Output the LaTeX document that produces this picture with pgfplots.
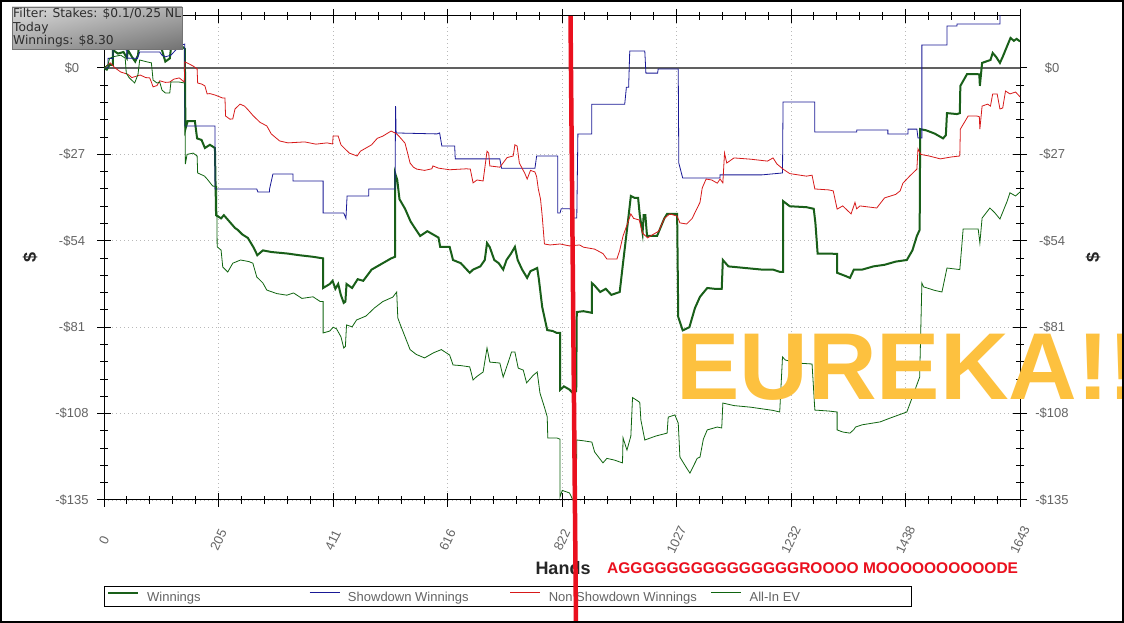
\documentclass[border=0pt]{standalone}
\usepackage{fontspec}
\setmainfont{Liberation Sans}
\newfontfamily\dejavu{DejaVu Sans}
\usepackage{pgfplots}
\pgfplotsset{compat=1.18}
\usetikzlibrary{shadings}
\definecolor{wincol}{RGB}{25,95,25}
\definecolor{sdcol}{RGB}{25,25,150}
\definecolor{nsdcol}{RGB}{215,25,25}
\definecolor{evcol}{RGB}{15,100,15}
\definecolor{eureka}{RGB}{253,193,63}
\definecolor{agro}{RGB}{234,16,30}
\definecolor{ticklab}{RGB}{100,100,100}
\definecolor{boxtext}{RGB}{45,45,45}

\pgfplotsset{
  baseaxis/.style={
    at={(104pt,123pt)}, anchor=south west,
    scale only axis, width=916pt, height=484pt,
    xmin=0, xmax=1643, ymin=-135, ymax=16.25,
    ytick={-135,-108,-81,-54,-27,0},
    yticklabels={-\$135,-\$108,-\$81,-\$54,-\$27,\$0},
  }
}

\begin{document}
\begin{tikzpicture}
\useasboundingbox (0,0) rectangle (1124pt,623pt);
\fill[white] (0,0) rectangle (1124pt,623pt);

\begin{axis}[
  baseaxis,
  axis line style={black, line width=1pt},
  xtick={0,205.375,410.75,616.125,821.5,1026.875,1232.25,1437.625,1643},
  xticklabels={0,205,411,616,822,1027,1232,1438,1643},
  minor x tick num=4, minor y tick num=4,
  tick align=center, major tick length=14pt, minor tick length=8pt,
  every tick/.style={black, line width=1pt},
  grid=major,
  major grid style={gray!55, line width=0.8pt, dash pattern=on 1pt off 3pt},
  xticklabel style={font=\fontsize{13}{15}\selectfont, text=ticklab, inner sep=0pt, anchor=center, yshift=-33pt, rotate=65},
  yticklabel style={font=\fontsize{13}{15}\selectfont, text=ticklab, inner sep=0pt, anchor=center, xshift=-25pt},
  legend columns=4,
  legend style={at={(0,-0.17975)}, anchor=north west, draw=none, fill=white,
    inner xsep=3pt, inner ysep=3pt, font=\fontsize{13}{15}\selectfont, text=ticklab,
    /tikz/column sep=0pt, nodes={inner sep=0pt, text height=11pt, text depth=3pt}},
  legend image code/.code={\draw[#1] (0pt,4.5pt) -- (30pt,4.5pt);},
  legend entries={\hspace*{8pt}\makebox[162pt][l]{Winnings},
                  \hspace*{8pt}\makebox[162pt][l]{Showdown Winnings},
                  \hspace*{8pt}\makebox[162pt][l]{Non Showdown Winnings},
                  \hspace*{8pt}\makebox[150pt][l]{All-In EV}},
]
\draw[gray!75!black, line width=1.5pt] (axis cs:0,0) -- (axis cs:1643,0);

% Winnings
\addplot[wincol, line width=2pt] coordinates {
(0,0)(5,-0.5)(10,1)(16,1)(16,5.6)(25,4.5)(35,5)(41,3.1)(43,5.6)(50,3.5)(56,2)(61,4)(64,9)(80,10)(100,9)(104,5.6)(110,2)(118,3)(120,6)(130,6.6)(141,6.6)(145,6)
(146,-19.1)(150,-16.6)(163,-16.6)(167,-22)(175,-22.5)(181,-25)(190,-24)(199,-25)(201,-46)(210,-47)(215,-46)(225,-48)(235,-50)(240,-50.6)(248,-52)(258,-53.1)
(268,-56)(275,-58.5)(285,-57)(300,-57.5)(330,-58)(350,-58.5)(375,-59)(393,-59.5)(393,-68.75)(405,-67.5)(410,-66.5)(415,-69)(420,-67.5)(425,-71)(430,-73.4)
(433,-73)(435,-67.5)(445,-68.75)(455,-66)(465,-66.5)(480,-63)(495,-61.5)(505,-60.5)(515,-59.5)(522,-59)(522,-32.8)(526,-35)(530,-41)(540,-44)(550,-48)
(567,-52.5)(580,-51)(600,-53)(603,-55.9)(620,-55.9)(626,-60)(640,-61)(656,-64)(662,-63)(675,-62)(683,-60)(687,-54.7)(692,-56)(700,-60)(708,-61)(716,-63)
(722,-60)(730,-58)(737,-55.9)(742,-60)(750,-63)(759,-65.6)(765,-63.5)(777,-62.5)(780,-66)(786,-74.7)(795,-81.9)(805,-82.2)(812,-82.8)(818,-82.8)(818,-100.6)
(825,-99.5)(835,-100.5)(841,-101.6)(847,-101)(848,-76.25)(860,-76)(875,-76.5)(875,-67.2)(880,-68)(890,-70)(900,-69)(910,-70.9)(925,-70)(931,-60.9)(938,-50.6)
(945,-40)(952,-40.6)(958,-40.6)(961,-46)(966,-51.6)(968,-46)(971,-46)(974,-52.5)(992,-52.5)(1005,-47)(1010,-45.6)(1028,-45.6)(1030,-77.8)(1038,-82)(1050,-81)
(1060,-75)(1069,-71.5)(1082,-68.75)(1095,-69)(1108,-69)(1110,-60)(1120,-62)(1150,-62.5)(1180,-63)(1200,-63)(1212,-63.7)(1218,-63.7)(1218,-41.6)(1230,-43.2)
(1260,-43.5)(1273,-44)(1276,-48.4)(1280,-58)(1300,-58)(1315,-58.1)(1315,-64)(1330,-65)(1338,-65.6)(1345,-63)(1360,-63)(1380,-62)(1400,-61.5)(1420,-60.5)
(1440,-60)(1450,-57)(1458,-52.5)(1463,-50.6)(1464,-19.1)(1475,-19.5)(1490,-20.5)(1505,-22)(1510,-21)(1512,-14.1)(1530,-14.4)(1535,-14.1)(1536,-5.6)(1548,-1.9)
(1565,-1.9)(1570,-2)(1571,-5.6)(1575,1.6)(1590,2.5)(1594,4.7)(1600,3.5)(1607,1.6)(1612,3.5)(1620,6.9)(1626,9.4)(1632,8.5)(1637,9.1)(1643,8.3)
};

% Showdown Winnings
\addplot[sdcol, line width=0.8pt] coordinates {
(0,0)(7,0)(7,3)(16,3)(16,6)(30,6)(41,5.6)(41,3.1)(60,3)(64,5)(100,5)(104,4)(110,3.5)(120,4)(136,7)(145,7.5)(145,-18.1)(199,-18.1)(199,-37.8)(274,-37.8)
(276,-38.75)(297,-38.75)(297,-37.8)(303,-33.1)(339,-33.1)(339,-35.3)(393,-35.3)(393,-45.3)(430,-45.3)(434,-47)(436,-40)(475,-40)(475,-37.8)(522,-37.8)
(523,-11.9)(524,-20.3)(597,-20.6)(602,-20.3)(606,-24.4)(629,-24.4)(630,-28.4)(710,-28.4)(713,-31.3)(773,-31.3)(776,-27.5)(814,-27.5)(814,-45.3)(818,-45.3)
(820,-44)(836,-44)(840,-46.9)(848,-46.9)(850,-20.6)(875,-20.6)(875,-11.3)(934,-11.3)(937,-6)(941,-6)(943,5.3)(970,5.3)(972,-1.6)(993,-1.6)(994,-0.3)(1030,-0.3)
(1031,-29.7)(1038,-34.4)(1105,-34.4)(1105,-33.4)(1180,-33.4)(1217,-32.8)(1218,-10.6)(1275,-10.6)(1275,-20)(1350,-20)(1350,-19.4)(1406,-19.4)(1406,-20.6)
(1442,-20.6)(1442,-19.1)(1458,-19.1)(1460,-21.9)(1467,-21.9)(1467,7.2)(1512,7.2)(1512,13.1)(1530,13.1)(1530,13.75)(1607,13.75)(1607,17)(1643,17)
};

% Non Showdown Winnings
\addplot[nsdcol, line width=0.8pt] coordinates {
(0,0)(7,1)(11,1.6)(20,0)(30,-1.25)(43,-2)(50,-3)(59,-2.5)(65,-2.2)(75,-3)(82,-3.1)(85,-4.4)(88,-5.9)(95,-5.5)(100,-4)(110,-4.5)(118,-4.4)(125,-3.5)(135,-3.1)
(144,-4.4)(145,1.9)(150,1.5)(160,0.6)(167,-0.3)(168,-4.7)(175,-5)(181,-5.6)(185,-8.1)(190,-8)(200,-8.5)(213,-9.4)(217,-9.4)(218,-15)(226,-16)(231,-15.9)
(235,-12.8)(244,-11.3)(252,-11.9)(258,-13)(268,-15)(280,-17)(292,-18.1)(300,-20.6)(315,-22.8)(330,-23.4)(360,-23.1)(380,-23.8)(400,-23.4)(410,-23.75)
(411,-21.25)(420,-21.25)(425,-24)(440,-26.6)(454,-27.5)(460,-26)(470,-25)(480,-24)(490,-22)(500,-21.3)(515,-19.7)(522,-20.3)(525,-20.6)(530,-21.5)(540,-23.5)
(549,-29.7)(555,-31)(561,-31.6)(575,-32)(588,-31.5)(590,-30.6)(600,-31.3)(620,-31.8)(650,-31.5)(657,-31.6)(662,-35.9)(669,-35)(680,-35.3)(687,-26)(690,-26.6)
(692,-30.6)(710,-31)(723,-28)(734,-27.5)(737,-24)(741,-24.4)(745,-29.7)(755,-33)(759,-34.7)(765,-32)(773,-32.5)(776,-34)(779,-37.8)(783,-41)(786,-46.3)
(790,-55)(800,-55.3)(818,-55)(835,-55.6)(853,-55.3)(860,-56)(880,-56.6)(895,-58)(902,-59.7)(920,-59.7)(925,-57)(931,-52.5)(945,-45.6)(950,-47)(960,-47.5)
(966,-51.6)(975,-53.1)(985,-52)(995,-51)(1005,-47)(1015,-45.6)(1028,-46.3)(1033,-48.4)(1045,-48.75)(1055,-47)(1063,-44.1)(1069,-42)(1073,-37.5)(1080,-34.7)
(1090,-35)(1100,-36)(1105,-34.7)(1110,-35.9)(1113,-26.6)(1117,-29.7)(1130,-28.1)(1160,-28.5)(1190,-29.1)(1200,-28.1)(1207,-30)(1218,-31.6)(1230,-33)
(1260,-33.8)(1270,-33.5)(1275,-37.8)(1300,-38.1)(1308,-38.4)(1315,-44.1)(1325,-43.1)(1340,-45.6)(1347,-42)(1350,-44)(1356,-43.1)(1386,-43.75)(1400,-40.6)
(1420,-39.5)(1428,-38.4)(1433,-36)(1445,-33.8)(1458,-31.6)(1460,-25.3)(1465,-27)(1480,-27.5)(1500,-28.4)(1520,-27.8)(1535,-27.5)(1536,-19.1)(1550,-15)
(1565,-15)(1570,-15.2)(1571,-19.1)(1575,-11.9)(1585,-11.3)(1590,-11.9)(1594,-8.1)(1602,-8.1)(1607,-12.8)(1612,-12.5)(1617,-7.2)(1625,-8.1)(1635,-7.5)(1643,-9)
};

% All-In EV
\addplot[evcol, line width=0.8pt] coordinates {
(0,0)(7,1)(10,3)(16,3.5)(30,4)(38,3.1)(40,-1.6)(45,-3)(55,-4.7)(61,-2)(64,2.5)(75,2)(85,1.6)(88,-3.75)(95,-4.7)(100,-4.4)(104,-6.9)(110,-7.8)(118,-7.8)
(120,-4.4)(135,-4.4)(145,-4.7)(146,-30)(149,-27)(160,-26.6)(167,-27.5)(168,-32.8)(180,-33.75)(185,-34.7)(195,-36.9)(202,-37)(203,-55.9)(210,-56.9)(213,-62.2)
(222,-63.75)(231,-61)(245,-60)(260,-60.5)(267,-61)(274,-65.3)(285,-67.2)(292,-69.4)(310,-70.5)(328,-71)(340,-70.3)(355,-72)(375,-71.5)(388,-73)(393,-73)
(393,-82.8)(405,-82.2)(411,-81)(417,-81.5)(425,-84)(430,-87.5)(433,-87)(435,-80.3)(445,-80.9)(453,-78.75)(470,-77.5)(485,-75)(500,-73)(518,-71.6)(525,-70)
(527,-78.1)(531,-80)(540,-84)(549,-88)(560,-89.5)(575,-90.6)(591,-89)(605,-88)(620,-89.7)(626,-92.8)(640,-93)(656,-93.4)(662,-97.5)(668,-96.5)(680,-95)
(687,-87.5)(692,-91.9)(710,-92.2)(716,-96.6)(725,-92)(731,-88.75)(737,-88.75)(743,-93.8)(752,-94.4)(758,-98.4)(770,-96)(777,-95)(782,-101.6)(790,-106)
(795,-109)(796,-115.6)(812,-115.6)(818,-116)(818,-134)(822,-132)(835,-132.8)(841,-135)(847,-135)(848,-116.25)(860,-116.5)(875,-116.9)(880,-120)(895,-123.4)
(902,-122)(915,-122.5)(930,-123.4)(931,-115.6)(938,-119.4)(945,-115)(948,-103)(957,-104)(961,-104.5)(963,-110)(970,-116.25)(990,-115)(1010,-114.1)(1012,-109.1)
(1024,-108.4)(1030,-111)(1033,-121.6)(1045,-125)(1051,-126.6)(1064,-122)(1069,-121.6)(1075,-116)(1082,-113.1)(1100,-112.2)(1108,-112.5)(1110,-104.7)
(1130,-105.5)(1160,-106)(1200,-107)(1212,-107.5)(1217,-90.3)(1222,-91.25)(1243,-92.2)(1270,-92.5)(1275,-106.9)(1300,-107.2)(1315,-107.5)(1315,-113.1)
(1325,-113.75)(1338,-114.1)(1345,-113)(1348,-112.2)(1360,-111.5)(1392,-110.6)(1410,-109.4)(1440,-107.5)(1450,-102.8)(1463,-96.6)(1467,-67.2)(1470,-68.4)
(1490,-69.5)(1503,-70)(1512,-62.5)(1535,-63)(1539,-54.7)(1541,-50.3)(1568,-50.3)(1571,-54.7)(1575,-46.9)(1589,-43.75)(1598,-45.3)(1607,-47.2)(1620,-41.6)
(1625,-39)(1635,-40)(1643,-38.75)
};
\end{axis}

% legend frame
\draw[black, line width=1pt] (104pt,16pt) rectangle (911pt,36pt);

% right-hand tick labels
\begin{axis}[
  baseaxis,
  hide x axis, axis y line*=right,
  y axis line style={draw=none}, ytick style={draw=none},
  minor y tick num=0, major tick length=14pt, tick align=center,
  yticklabel style={font=\fontsize{13}{15}\selectfont, text=ticklab, inner sep=0pt, anchor=center, xshift=25pt},
]
\end{axis}

% axis titles
\node[font=\bfseries\fontsize{18}{20}\selectfont, rotate=90, text=black!85] at (30pt,365pt) {\$};
\node[font=\bfseries\fontsize{18}{20}\selectfont, rotate=90, text=black!85] at (1093pt,365pt) {\$};
\node[font=\bfseries\fontsize{18}{20}\selectfont, text=black!85, anchor=base] at (563pt,48pt) {Hands};
\node[font=\bfseries\fontsize{15.5}{17}\selectfont, text=agro, anchor=base west, inner sep=0pt] at (607pt,49pt) {AGGGGGGGGGGGGGGGROOOO MOOOOOOOOOODE};

% overlay
\node[font=\bfseries\fontsize{95}{100}\selectfont, text=eureka, anchor=base west, inner sep=0pt] at (676pt,223pt) {EUREKA!!};

% filter box
\shade[upper left=black!14, upper right=black!32, lower left=black!35, lower right=black!55] (12pt,574pt) rectangle (182pt,616pt);
\draw[black!55, line width=0.8pt] (12pt,574pt) rectangle (182pt,616pt);
\node[font=\dejavu\fontsize{12.25}{13.5}\selectfont, text=boxtext, anchor=base west, inner sep=0pt] at (13pt,605pt) {Filter: Stakes: \$0.1/0.25 NL};
\node[font=\dejavu\fontsize{12.25}{13.5}\selectfont, text=boxtext, anchor=base west, inner sep=0pt] at (13pt,591.5pt) {Today};
\node[font=\dejavu\fontsize{12.25}{13.5}\selectfont, text=boxtext, anchor=base west, inner sep=0pt] at (13pt,578pt) {Winnings: \$8.30};

% red slash
\draw[agro, line width=4.5pt] (570.5pt,607pt) -- (576pt,-2pt);

% frame
\draw[black, line width=2pt] (1pt,1pt) rectangle (1123pt,622pt);
\end{tikzpicture}
\end{document}
